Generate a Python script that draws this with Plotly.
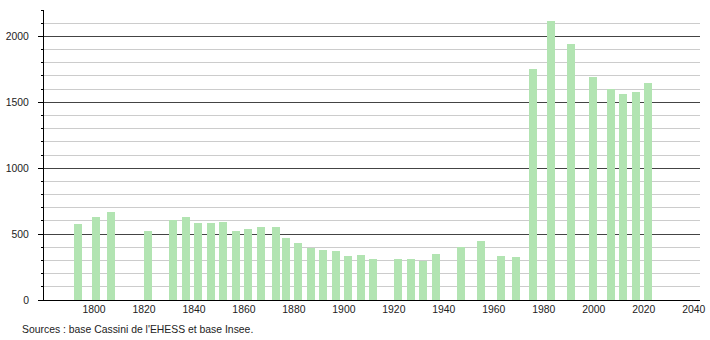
import plotly.graph_objects as go

years = [1793, 1800, 1806, 1821, 1831, 1836, 1841, 1846, 1851, 1856, 1861, 1866,
         1872, 1876, 1881, 1886, 1891, 1896, 1901, 1906, 1911, 1921, 1926, 1931,
         1936, 1946, 1954, 1962, 1968, 1975, 1982, 1990, 1999, 2006, 2011, 2016, 2021]
population = [575, 632, 670, 525, 609, 632, 581, 581, 588, 525, 540, 555,
              555, 472, 434, 396, 381, 373, 335, 343, 312, 312, 312, 297,
              350, 403, 449, 335, 327, 1750, 2116, 1941, 1689, 1598, 1560, 1575, 1644]
x_ticks = [1800, 1820, 1840, 1860, 1880, 1900, 1920, 1940, 1960, 1980, 2000, 2020, 2040]
source_text = "Sources : base Cassini de l'EHESS et base Insee."

fig = go.Figure()
fig.add_trace(go.Bar(
    x=years, y=population,
    width=3.2, offset=-0.9,
    marker=dict(color="#b2e4b2", line=dict(width=0)),
    hoverinfo="x+y",
))

fig.update_layout(
    width=710, height=340,
    margin=dict(l=44, r=10, t=10, b=40, autoexpand=False),
    paper_bgcolor="white", plot_bgcolor="white",
    showlegend=False,
    font=dict(family="Liberation Sans, Arial, sans-serif", size=10.4, color="#222"),
    bargap=0,
)
fig.update_xaxes(
    range=[1780, 2042.5],
    tickmode="array", tickvals=x_ticks,
    showgrid=False, zeroline=False, automargin=False,
    showline=True, linecolor="black", linewidth=1,
    ticks="", tickfont=dict(size=10.4, color="#222"),
)
fig.update_yaxes(
    range=[0, 2200], automargin=False,
    tickmode="linear", tick0=0, dtick=500,
    showgrid=True, gridcolor="#444", gridwidth=1,
    zeroline=False,
    showline=True, linecolor="black", linewidth=1,
    ticks="outside", ticklen=5, tickcolor="black", tickwidth=1,
    ticklabelstandoff=7,
    tickfont=dict(size=10.4, color="#222"),
    minor=dict(dtick=100, tick0=0, showgrid=True, gridcolor="#cccccc", gridwidth=1,
               ticks="outside", ticklen=2, tickcolor="black"),
    layer="below traces",
)
fig.add_annotation(
    text=source_text, xref="paper", yref="paper",
    x=-0.0366, y=-0.1, xanchor="left", yanchor="middle",
    showarrow=False, font=dict(size=10.4, color="#222"),
)
fig.write_html("out.html")
